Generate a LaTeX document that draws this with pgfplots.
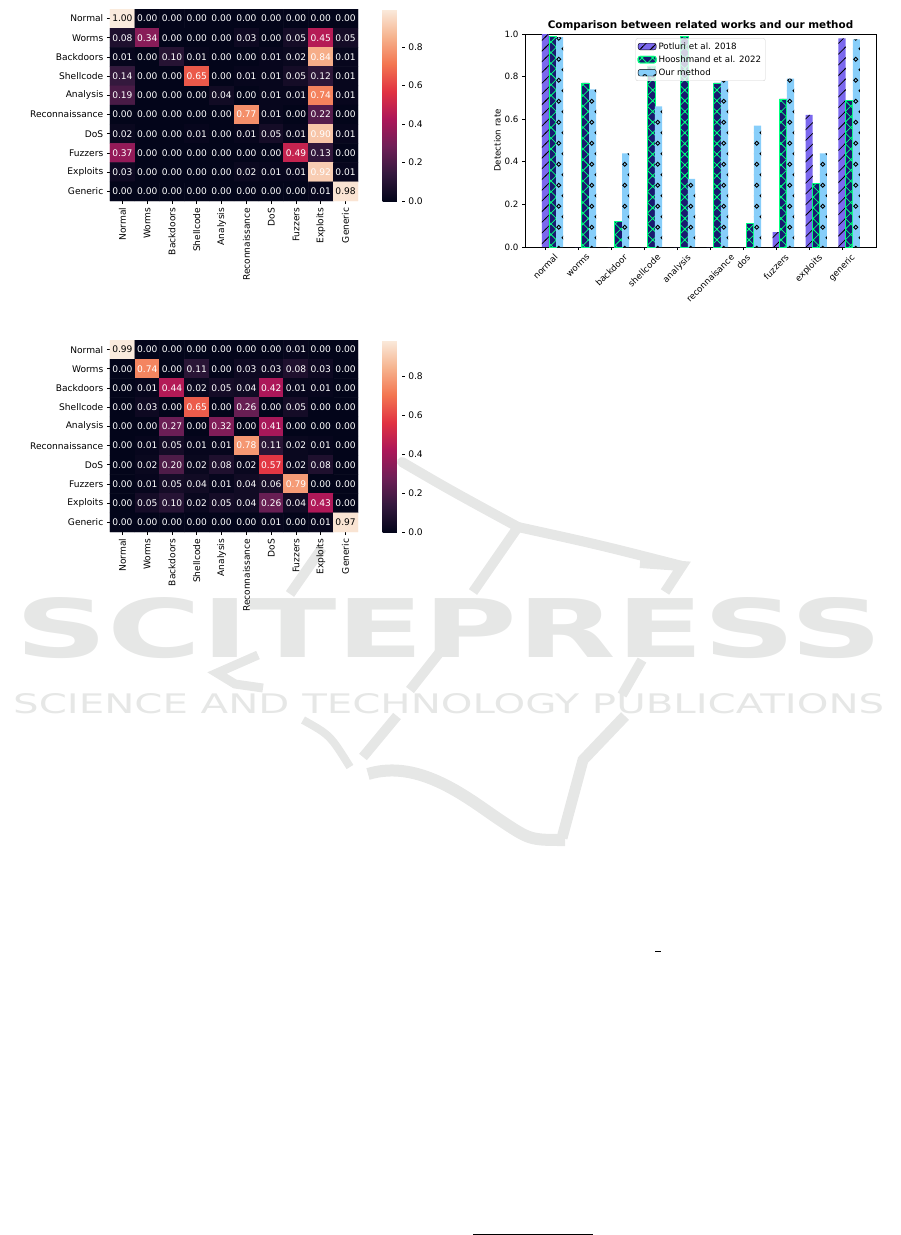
\documentclass[border=0pt]{standalone}
\usepackage{fontspec}
\setmainfont{DejaVu Sans}
\usepackage{graphicx}
\usepackage{pgfplots}
\pgfplotsset{compat=1.18}
\usepackage{pgfplotstable}
\usetikzlibrary{patterns}

\definecolor{wm}{HTML}{E6E7E6}
\definecolor{potcol}{HTML}{7B68EE}
\definecolor{hoocol}{HTML}{191970}
\definecolor{hooedge}{HTML}{00FF7F}
\definecolor{ourcol}{HTML}{87CEFA}

\newcommand\fs{\fontsize{9.1}{10.9}\selectfont}
\newcommand\fsb{\fontsize{8.7}{10.4}\selectfont}

\pgfdeclarepatternformonly{slashhatch}{\pgfqpoint{-1pt}{-1pt}}{\pgfqpoint{11.7pt}{11.7pt}}{\pgfqpoint{10.7pt}{10.7pt}}{%
  \pgfsetlinewidth{0.75pt}%
  \pgfpathmoveto{\pgfqpoint{-1pt}{-1pt}}\pgfpathlineto{\pgfqpoint{11.7pt}{11.7pt}}\pgfusepath{stroke}}
\pgfdeclarepatternformonly{xhatch}{\pgfqpoint{-1pt}{-1pt}}{\pgfqpoint{11.7pt}{11.7pt}}{\pgfqpoint{10.7pt}{10.7pt}}{%
  \pgfsetlinewidth{0.75pt}%
  \pgfpathmoveto{\pgfqpoint{-1pt}{-1pt}}\pgfpathlineto{\pgfqpoint{11.7pt}{11.7pt}}%
  \pgfpathmoveto{\pgfqpoint{-1pt}{11.7pt}}\pgfpathlineto{\pgfqpoint{11.7pt}{-1pt}}\pgfusepath{stroke}}
\pgfdeclarepatternformonly{circhatch}{\pgfqpoint{0pt}{0pt}}{\pgfqpoint{10.7pt}{21.4pt}}{\pgfqpoint{10.7pt}{21.4pt}}{%
  \pgfsetlinewidth{0.85pt}%
  \pgfpathcircle{\pgfqpoint{2.8pt}{2.8pt}}{2.0pt}%
  \pgfpathcircle{\pgfqpoint{8.15pt}{13.5pt}}{2.0pt}\pgfusepath{stroke}}

\pgfplotsset{
  colormap={rocket}{rgb255(0cm)=(3,5,26) rgb255(1cm)=(53,25,62) rgb255(2cm)=(112,31,87) rgb255(3cm)=(173,23,89) rgb255(4cm)=(225,51,66) rgb255(5cm)=(243,118,81) rgb255(6cm)=(246,180,143) rgb255(7cm)=(250,235,221)},
  barimg/.style={legend image code/.code={\draw[##1, fill opacity=1] (0pt,-3.3pt) rectangle (18pt,3.3pt);}},
  heat/.style={
    scale only axis, width=248pt, height=192pt,
    xmin=-0.5, xmax=9.5, ymin=-0.5, ymax=9.5,
    axis line style={draw=none},
    tick align=outside, major tick length=3.2pt,
    tick style={black, line width=0.75pt},
    xtick={0,...,9}, ytick={0,...,9},
    xticklabels={Normal,Worms,Backdoors,Shellcode,Analysis,Reconnaissance,DoS,Fuzzers,Exploits,Generic},
    yticklabels={Generic,Exploits,Fuzzers,DoS,Reconnaissance,Analysis,Shellcode,Backdoors,Worms,Normal},
    xticklabel style={rotate=90, anchor=east, font=\fs},
    yticklabel style={font=\fs},
    xtick pos=left, ytick pos=left,
    point meta min=0,
    colorbar,
    colorbar style={
      at={(parent axis.north east)}, anchor=north west, xshift=16pt,
      scale only axis, width=19pt, height=192pt,
      axis line style={draw=none},
      ytick={0,0.2,0.4,0.6,0.8},
      ytick pos=right, yticklabel pos=right,
      tick align=outside, major tick length=3.2pt,
      tick style={black, line width=0.75pt},
      yticklabel style={font=\fs, /pgf/number format/.cd, fixed, fixed zerofill, precision=1, assume math mode=true},
    },
  },
  annot/.style={
    only marks, mark=*, mark size=0pt, mark options={draw=none, fill=none},
    point meta=explicit symbolic,
    nodes near coords={\pgfmathparse{\pgfplotspointmeta>0.95}\ifdim\pgfmathresult pt>0.5pt\color{black}\else\color{white}\fi\pgfplotspointmeta},
    nodes near coords align={center},
    every node near coord/.append style={font=\fs, anchor=center, inner sep=0pt},
  },
}

\begin{document}
\pgfplotstableread[row sep=\\]{
x y z\\
0 9 1.00\\1 9 0.00\\2 9 0.00\\3 9 0.00\\4 9 0.00\\5 9 0.00\\6 9 0.00\\7 9 0.00\\8 9 0.00\\9 9 0.00\\
0 8 0.08\\1 8 0.34\\2 8 0.00\\3 8 0.00\\4 8 0.00\\5 8 0.03\\6 8 0.00\\7 8 0.05\\8 8 0.45\\9 8 0.05\\
0 7 0.01\\1 7 0.00\\2 7 0.10\\3 7 0.01\\4 7 0.00\\5 7 0.00\\6 7 0.01\\7 7 0.02\\8 7 0.84\\9 7 0.01\\
0 6 0.14\\1 6 0.00\\2 6 0.00\\3 6 0.65\\4 6 0.00\\5 6 0.01\\6 6 0.01\\7 6 0.05\\8 6 0.12\\9 6 0.01\\
0 5 0.19\\1 5 0.00\\2 5 0.00\\3 5 0.00\\4 5 0.04\\5 5 0.00\\6 5 0.01\\7 5 0.01\\8 5 0.74\\9 5 0.01\\
0 4 0.00\\1 4 0.00\\2 4 0.00\\3 4 0.00\\4 4 0.00\\5 4 0.77\\6 4 0.01\\7 4 0.00\\8 4 0.22\\9 4 0.00\\
0 3 0.02\\1 3 0.00\\2 3 0.00\\3 3 0.01\\4 3 0.00\\5 3 0.01\\6 3 0.05\\7 3 0.01\\8 3 0.90\\9 3 0.01\\
0 2 0.37\\1 2 0.00\\2 2 0.00\\3 2 0.00\\4 2 0.00\\5 2 0.00\\6 2 0.00\\7 2 0.49\\8 2 0.13\\9 2 0.00\\
0 1 0.03\\1 1 0.00\\2 1 0.00\\3 1 0.00\\4 1 0.00\\5 1 0.02\\6 1 0.01\\7 1 0.01\\8 1 0.92\\9 1 0.01\\
0 0 0.00\\1 0 0.00\\2 0 0.00\\3 0 0.00\\4 0 0.00\\5 0 0.00\\6 0 0.00\\7 0 0.00\\8 0 0.01\\9 0 0.98\\
}\hmA
\pgfplotstableread[row sep=\\]{
x y z\\
0 9 0.99\\1 9 0.00\\2 9 0.00\\3 9 0.00\\4 9 0.00\\5 9 0.00\\6 9 0.00\\7 9 0.01\\8 9 0.00\\9 9 0.00\\
0 8 0.00\\1 8 0.74\\2 8 0.00\\3 8 0.11\\4 8 0.00\\5 8 0.03\\6 8 0.03\\7 8 0.08\\8 8 0.03\\9 8 0.00\\
0 7 0.00\\1 7 0.01\\2 7 0.44\\3 7 0.02\\4 7 0.05\\5 7 0.04\\6 7 0.42\\7 7 0.01\\8 7 0.01\\9 7 0.00\\
0 6 0.00\\1 6 0.03\\2 6 0.00\\3 6 0.65\\4 6 0.00\\5 6 0.26\\6 6 0.00\\7 6 0.05\\8 6 0.00\\9 6 0.00\\
0 5 0.00\\1 5 0.00\\2 5 0.27\\3 5 0.00\\4 5 0.32\\5 5 0.00\\6 5 0.41\\7 5 0.00\\8 5 0.00\\9 5 0.00\\
0 4 0.00\\1 4 0.01\\2 4 0.05\\3 4 0.01\\4 4 0.01\\5 4 0.78\\6 4 0.11\\7 4 0.02\\8 4 0.01\\9 4 0.00\\
0 3 0.00\\1 3 0.02\\2 3 0.20\\3 3 0.02\\4 3 0.08\\5 3 0.02\\6 3 0.57\\7 3 0.02\\8 3 0.08\\9 3 0.00\\
0 2 0.00\\1 2 0.01\\2 2 0.05\\3 2 0.04\\4 2 0.01\\5 2 0.04\\6 2 0.06\\7 2 0.79\\8 2 0.00\\9 2 0.00\\
0 1 0.00\\1 1 0.05\\2 1 0.10\\3 1 0.02\\4 1 0.05\\5 1 0.04\\6 1 0.26\\7 1 0.04\\8 1 0.43\\9 1 0.00\\
0 0 0.00\\1 0 0.00\\2 0 0.00\\3 0 0.00\\4 0 0.00\\5 0 0.00\\6 0 0.01\\7 0 0.00\\8 0 0.01\\9 0 0.97\\
}\hmB
\begin{tikzpicture}
\path[use as bounding box] (0pt,0pt) rectangle (901pt,-1235pt);

% watermark
\begin{scope}[x=1pt, y=-1pt]
\node[anchor=north west, inner sep=0pt, text=wm] at (15,597) {\resizebox{867pt}{60pt}{\bfseries SCITEPRESS}};
\node[anchor=north west, inner sep=0pt, text=wm] at (13,693) {\resizebox{871pt}{20pt}{SCIENCE AND TECHNOLOGY PUBLICATIONS}};
\draw[wm, line width=10pt, line cap=round] (402,462) .. controls (450,490) .. (518,527);
\draw[wm, line width=10pt] (518,527) .. controls (600,545) .. (682,566);
\draw[wm, line width=10pt] (518,527) -- (473,592);
\draw[wm, line width=10pt] (640,563) -- (682,566) -- (665,592);
\draw[wm, line width=10pt] (322,548) -- (290,594);
\draw[wm, line width=10pt] (642,660) -- (622,695);
\draw[wm, line width=9pt] (258,655) -- (217,673) -- (235,684) -- (263,688);
\draw[wm, line width=10pt] (447,643) -- (410,690);
\draw[wm, line width=11pt] (625,716) -- (583,760) -- (562,838);
\draw[wm, line width=10pt] (397,716) -- (363,757);
\draw[wm, line width=8pt] (303,720) .. controls (330,735) .. (350,767);
\draw[wm, line width=12pt] (368,774) .. controls (420,758) and (470,800) .. (500,820) .. controls (530,840) .. (565,840);
\draw[black, line width=1pt] (655,951) -- (661,951);
\draw[black, line width=1pt] (473,1234) -- (593,1234);
\end{scope}

% heatmap 1
\begin{axis}[heat, at={(110pt,-9pt)}, anchor=north west, point meta max=0.998]
\addplot[matrix plot*, mesh/cols=10, mesh/rows=10, point meta=explicit]
  table[x=x, y=y, meta=z] \hmA;
\addplot[annot] table[x=x, y=y, meta=z] \hmA;
\end{axis}

% heatmap 2
\begin{axis}[heat, at={(110pt,-340pt)}, anchor=north west, point meta max=0.988]
\addplot[matrix plot*, mesh/cols=10, mesh/rows=10, point meta=explicit]
  table[x=x, y=y, meta=z] \hmB;
\addplot[annot] table[x=x, y=y, meta=z] \hmB;
\end{axis}

% bar chart
\begin{axis}[at={(525pt,-34pt)}, anchor=north west, scale only axis, width=351pt, height=213pt,
  xmin=-0.617, xmax=10.03, ymin=0, ymax=1,
  ybar, bar width=0.217,
  xtick={0,...,9},
  xticklabels={\rotatebox{45}{normal},\rotatebox{45}{worms},\rotatebox{45}{backdoor},\rotatebox{45}{shellcode},\rotatebox{45}{analysis},\rotatebox{45}{reconnaisance},\rotatebox{45}{dos},\rotatebox{45}{fuzzers},\rotatebox{45}{exploits},\rotatebox{45}{generic}},
  xticklabel style={anchor=north, font=\fsb},
  ytick={0,0.2,0.4,0.6,0.8,1.0},
  yticklabel style={font=\fsb, /pgf/number format/.cd, fixed, fixed zerofill, precision=1, assume math mode=true},
  tick align=outside, major tick length=3pt,
  xtick pos=left, ytick pos=left,
  tick style={black, line width=0.7pt},
  axis line style={line width=0.7pt},
  title={\bfseries Comparison between related works and our method},
  title style={font=\fontsize{10.4}{12}\selectfont, yshift=-6pt},
  ylabel={Detection rate}, ylabel style={font=\fsb, yshift=-3pt},
  legend style={at={(0.5,0.98)}, anchor=north, font=\fsb, draw=black!18, rounded corners=2pt,
    fill=white, fill opacity=0.8, text opacity=1, inner sep=2pt, row sep=1pt},
  legend cell align=left,
]
\addplot[bar shift=0pt, fill=potcol, draw=none, postaction={pattern=slashhatch, pattern color=black}, barimg]
  coordinates {(0,1.0) (1,0) (2,0) (3,0) (4,0) (5,0) (6,0) (7,0.07) (8,0.62) (9,0.98)};
\addplot[bar shift=0pt, fill=hoocol, draw=hooedge, line width=0.8pt, postaction={pattern=xhatch, pattern color=hooedge}, barimg]
  coordinates {(0.217,0.99) (1.217,0.77) (2.217,0.12) (3.217,0.85) (4.217,0.99) (5.217,0.77) (6.217,0.11) (7.217,0.695) (8.217,0.30) (9.217,0.69)};
\addplot[bar shift=0pt, fill=ourcol, draw=none, postaction={pattern=circhatch, pattern color=black}, barimg]
  coordinates {(0.434,0.985) (1.434,0.74) (2.434,0.44) (3.434,0.66) (4.434,0.32) (5.434,0.78) (6.434,0.57) (7.434,0.79) (8.434,0.44) (9.434,0.975)};
\legend{Potluri et al. 2018, Hooshmand et al. 2022, Our method}
\end{axis}
\end{tikzpicture}
\end{document}
